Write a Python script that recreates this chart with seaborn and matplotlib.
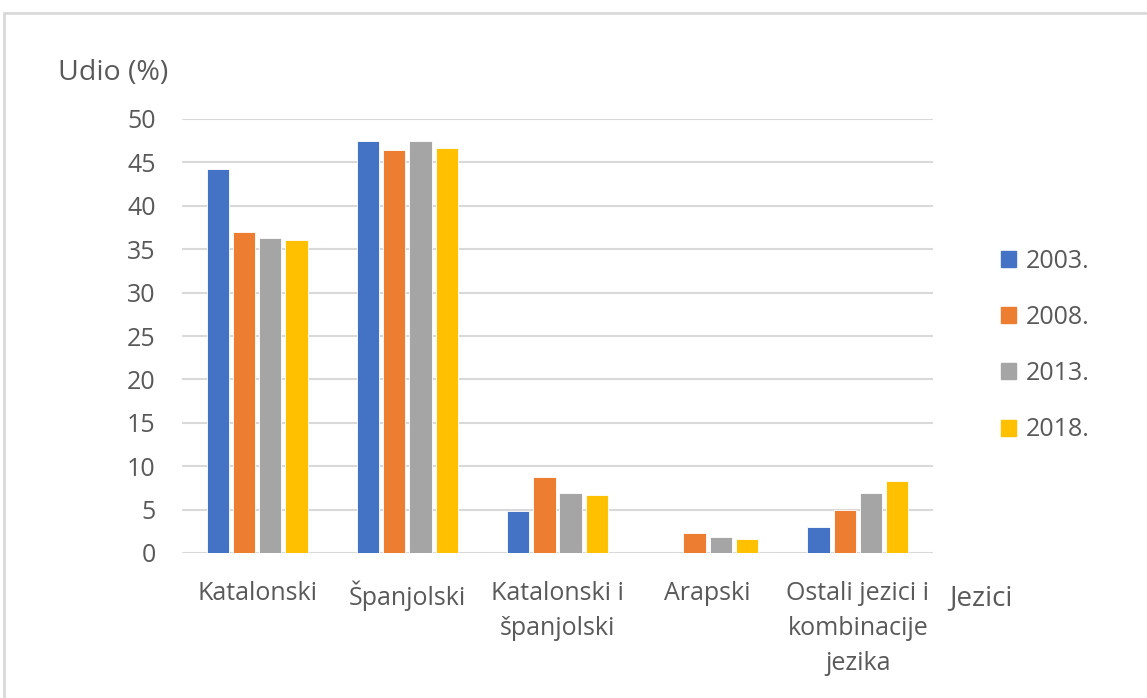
import pandas as pd
import matplotlib.pyplot as plt
import matplotlib.patches as mpatches
import seaborn as sns

# data
languages = ["Katalonski", "Španjolski", "Katalonski i\nšpanjolski", "Arapski",
             "Ostali jezici i\nkombinacije\njezika"]
years = ["2003.", "2008.", "2013.", "2018."]
share_2003 = [44.2, 47.5, 4.8, 0.0, 3.0]
share_2008 = [37.0, 46.4, 8.7, 2.3, 4.9]
share_2013 = [36.3, 47.5, 6.9, 1.9, 6.9]
share_2018 = [36.1, 46.7, 6.7, 1.6, 8.3]
colors = ["#4472C4", "#ED7D31", "#A5A5A5", "#FFC000"]

rows = []
for year, vals in zip(years, [share_2003, share_2008, share_2013, share_2018]):
    for lang, v in zip(languages, vals):
        rows.append({"jezik": lang, "godina": year, "udio": v})
df = pd.DataFrame(rows)

sns.set_style("white")
plt.rcParams['font.family'] = ['Open Sans', 'DejaVu Sans']
text_col = "#595959"

fig = plt.figure(figsize=(11.47, 6.98), dpi=100)
ax = fig.add_axes([182 / 1147, 1 - 553 / 698, 751 / 1147, 434 / 698])

sns.barplot(data=df, x="jezik", y="udio", hue="godina", hue_order=years,
            palette=colors, width=0.7, gap=0.15, saturation=1, ax=ax,
            edgecolor="white", linewidth=0.6)

ax.set_ylim(0, 50)
ax.set_yticks(range(0, 51, 5))
ax.yaxis.grid(True, color="#D9D9D9", linewidth=1.5)
ax.set_axisbelow(True)
for s in ax.spines.values():
    s.set_visible(False)
ax.tick_params(axis="both", length=0, labelsize=18, labelcolor=text_col)
ax.tick_params(axis="y", pad=19)
ax.tick_params(axis="x", pad=20)
for lbl in ax.get_xticklabels():
    lbl.set_linespacing(1.52)
ax.set_xlabel("")
ax.set_ylabel("")

fig.text(58 / 1147, 1 - 73 / 698, "Udio (%)", fontsize=20.5, color=text_col, va="center")
fig.text(949 / 1147, 1 - 598 / 698, "Jezici", fontsize=20, color=text_col, va="center")

handles = [mpatches.Patch(color=c) for c in colors]
ax.legend(handles, years, loc="center left", bbox_to_anchor=(1.06, 0.478),
          frameon=False, fontsize=18, labelcolor=text_col, handlelength=0.6,
          handleheight=0.6, handletextpad=0.4, labelspacing=1.25)

# light outer border like the original chart frame
fig.patches.append(mpatches.Rectangle((4 / 1147, -0.1), 1.2, 1 - 13 / 698 + 0.1,
                                      transform=fig.transFigure, fill=False,
                                      edgecolor="#D9D9D9", linewidth=2))

plt.savefig("out.png", dpi=100)
